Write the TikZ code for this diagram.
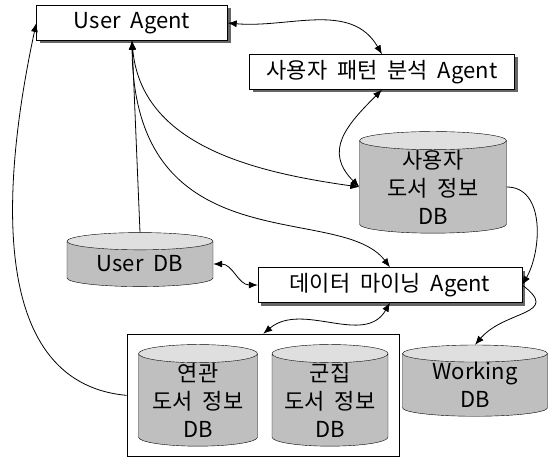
\documentclass[tikz,border=0pt]{standalone}
\usepackage{fontspec}
\setmainfont{Noto Sans CJK KR}[WordSpace=2]
\usetikzlibrary{shapes.geometric,shadows,fit,arrows.meta}

\tikzset{
  agent/.style={draw, fill=white, minimum height=35, inner sep=2pt,
    font=\fontsize{22}{26}\selectfont,
    drop shadow={shadow xshift=3pt, shadow yshift=-3pt, fill=black!60, opacity=1}},
  db/.style={cylinder, shape border rotate=90, draw, aspect=0.2,
    cylinder uses custom fill, cylinder body fill=gray!50, cylinder end fill=gray!25,
    align=center, inner sep=0pt, font=\fontsize{22}{28}\selectfont},
  link/.style={line width=0.8pt}
}

\begin{document}
\begin{tikzpicture}[x=1pt,y=1pt,>={Latex[length=9pt,width=7pt]}]
  \useasboundingbox (0,0) rectangle (554,467);

  % agents
  \node[agent, minimum width=191] (ua) at (132,444) {User Agent};
  \node[agent, minimum width=265] (pa) at (382,395) {사용자 패턴 분석 Agent};
  \node[agent, minimum width=264] (ma) at (390,182) {데이터 마이닝 Agent};

  % databases
  \node[db, minimum width=147, minimum height=80] (udb) at (433,280) {사용자\\도서 정보\\DB};
  \node[db, minimum width=146, minimum height=54] (userdb) at (140,203) {User DB};
  \node[db, minimum width=119, minimum height=93] (adb) at (198,67) {연관\\도서 정보\\DB};
  \node[db, minimum width=116, minimum height=93] (cdb) at (330,67) {군집\\도서 정보\\DB};
  \node[db, minimum width=145, minimum height=54] (wdb) at (475,82) {Working\\DB};
  \node[draw, line width=1.2pt, fit=(adb)(cdb), inner xsep=11, inner ysep=10] (grp) {};

  % links
  \draw[link,<->] (ua.east) to[out=-5,in=120] (pa.north);
  \draw[link,<->] (pa.south) to[out=-135,in=135,looseness=1.3] (udb.west);
  \draw[link,<-] (ua.south) -- (userdb.north);
  \draw[link,<->] (ua.south) to[out=-85,in=172] (udb.west);
  \draw[link,<->] (ua.south) .. controls +(2,-226) and +(-50,66) .. (ma.north);
  \draw[link,<->] (userdb.east) to[out=0,in=180] (ma.west);
  \draw[link,<->] (ma.south) to[out=-120,in=40] (grp.north);
  \draw[link,->] (udb.east) to[out=0,in=60] (ma.east);
  \draw[link,->] (ma.east) .. controls +(40,-30) and +(30,35) .. (wdb.north);
  \draw[link,->] (grp.west) .. controls +(-145,13) and +(-31,-144) .. (ua.west);
\end{tikzpicture}
\end{document}
